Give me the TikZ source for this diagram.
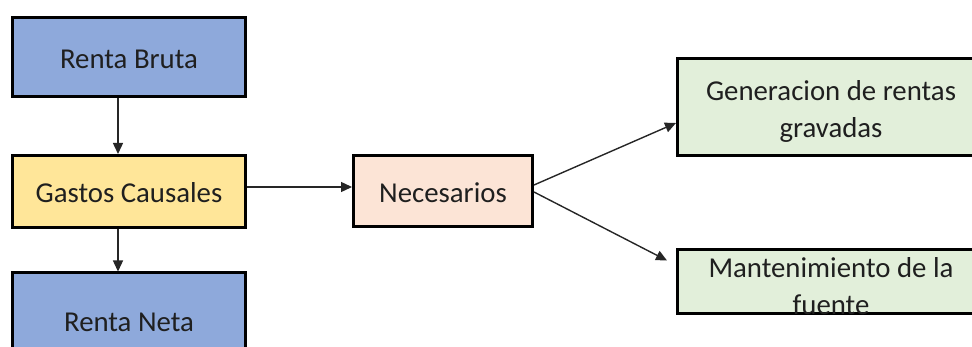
\documentclass[tikz,border=0pt]{standalone}
\usepackage{fontspec}
\setmainfont{Carlito}
\usetikzlibrary{arrows.meta,calc}
\definecolor{cblue}{HTML}{8EA9DB}
\definecolor{cyellow}{HTML}{FFE699}
\definecolor{cpeach}{HTML}{FCE4D6}
\definecolor{cgreen}{HTML}{E2EFDA}
\tikzset{
  box/.style={draw=black, line width=3pt, rectangle, inner sep=0pt},
  txt/.style={text=black!88, align=center, inner sep=0pt, font=\fontsize{28.8}{37}\selectfont},
  conn/.style={draw=black!85, line width=1.4pt, -{Triangle[length=11pt,width=10pt]}}
}
\begin{document}
\begin{tikzpicture}[x=1pt,y=-1pt]
\useasboundingbox (0,0) rectangle (972,347);
\clip (0,0) rectangle (972,347);
% boxes
\node[box, fill=cblue, minimum width=233pt, minimum height=79pt] (rb) at (129,57) {};
\node[box, fill=cyellow, minimum width=233pt, minimum height=72pt] (gc) at (129,191.5) {};
\node[box, fill=cblue, minimum width=233pt, minimum height=94pt] (rn) at (129,320) {};
\node[box, fill=cpeach, minimum width=179pt, minimum height=71pt] (nec) at (443,191) {};
\node[box, fill=cgreen, minimum width=308pt, minimum height=97pt] (gen) at (831.5,107) {};
\node[box, fill=cgreen, minimum width=308pt, minimum height=64pt] (mant) at (831.5,281.5) {};
% texts
\node[txt] (trb) at (129,59) {Renta Bruta};
\node[txt] (tgc) at (129,193) {Gastos Causales};
\node[txt] (trn) at (129,322) {Renta Neta};
\node[txt] (tnec) at (443,193) {Necesarios};
\node[txt] (tgen) at (831,111) {Generacion de rentas\\gravadas};
\node[txt] (tmant) at (831,286) {Mantenimiento de la\\fuente};
% connectors
\draw[conn] ($(rb.south)+(-11,0)$) -- ($(gc.north)+(-11,0)$);
\draw[conn] ($(gc.south)+(-11,0)$) -- ($(rn.north)+(-11,0)$);
\draw[conn] ($(gc.east)+(0,-4.5)$) -- ($(nec.west)+(0,-4)$);
\draw[conn] ($(nec.east)+(0,-6)$) -- ($(gen.west)+(0,16)$);
\coordinate (mtip) at ($(mant.west)+(-9,-21)$);
\draw[conn] ($(nec.east)+(0,1)$) -- (mtip);
\end{tikzpicture}
\end{document}
